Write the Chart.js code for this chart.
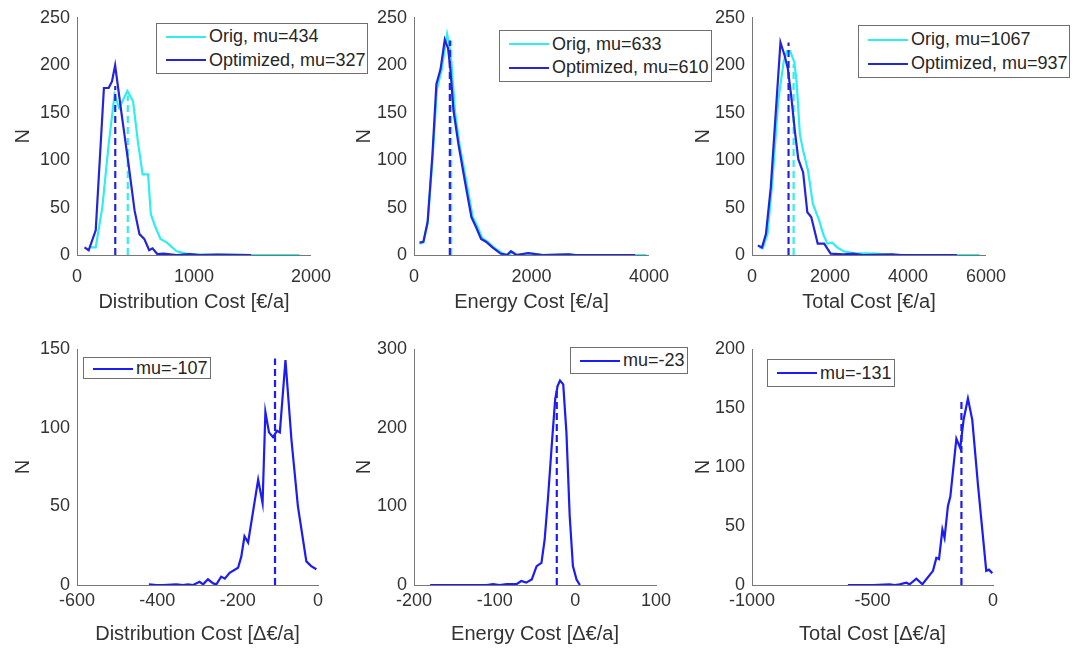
<!DOCTYPE html>
<html>
<head>
<meta charset="utf-8">
<title>Cost histograms</title>
<script src="https://cdn.jsdelivr.net/npm/chart.js@4.4.0/dist/chart.umd.min.js"></script>
<style>
  body { margin: 0; background: #fff; }
  #fig { position: relative; width: 1076px; height: 653px; overflow: hidden; font-family: "Liberation Sans", Arial, sans-serif; }
  .panel { position: absolute; }
  .legend { position: absolute; box-sizing: border-box; border: 1px solid #6f6f6f; background: #fff; color: #262626;
            font-size: 18px; padding: 0 2px 0 9px; z-index: 2; display: flex; flex-direction: column; justify-content: space-evenly; }
  .legend .row { display: flex; align-items: center; white-space: nowrap; }
  .legend .sw { width: 40px; height: 0; border-top: 2px solid; margin-right: 3px; flex: none; }
</style>
</head>
<body>
<div id="fig"></div>
<script>
// histogram counts (N) per bin, x = bin position

// distribution cost [€/a]
const distOrigX = [119, 160, 216, 271, 321, 360, 400, 431, 479, 520, 561, 608, 631, 672, 714, 769, 852, 935, 1018, 1200, 1500, 1903];
const distOrigN = [8, 8, 50, 117, 169, 155, 165, 173, 162, 120, 85, 85, 43, 29, 17, 13, 4, 1.4, 0.7, 0.5, 0, 0];
const distOptX = [64, 100, 160, 230, 271, 299, 326, 340, 382, 437, 492, 534, 575, 617, 645, 686, 741, 852, 960, 1050, 1200, 1488];
const distOptN = [8, 5, 26, 176, 176, 183, 200, 187, 148, 99, 47, 22, 17, 5, 7, 1, 1.5, 0, 1, 0, 0.5, 0];
const distMu = [434, 327];
const distMuN = [168, 178];

// energy cost [€/a]
const enOrigX = [94, 160, 232, 314, 390, 470, 563, 600, 640, 700, 780, 890, 1000, 1080, 1160, 1250, 1360, 1500, 1600, 1680, 1760, 1960, 2200, 2650, 2760, 3956];
const enOrigN = [12, 13, 33, 100, 175, 195, 233, 222, 200, 150, 115, 78, 40, 30, 18, 14, 8, 2, 0, 3, 0, 2, 0, 0.7, 0, 0];
const enOptX = [94, 160, 232, 314, 381, 452, 524, 579, 618, 673, 756, 866, 977, 1059, 1142, 1225, 1335, 1473, 1583, 1650, 1738, 1942, 2190, 2632, 2742, 3763];
const enOptN = [13, 14, 35, 106, 180, 196, 227, 218, 197, 152, 117, 78, 40, 29, 17, 14, 8, 1.5, 0, 4, 0, 2, 0, 0.7, 0, 0];
const enMu = [633, 610];
const enMuN = [226, 226];

// total cost [€/a]
const totOrigX = [191, 274, 398, 523, 672, 813, 896, 979, 1087, 1145, 1228, 1311, 1436, 1560, 1726, 1834, 1934, 2058, 2183, 2349, 2598, 3179, 3676, 5834];
const totOrigN = [8, 7, 22, 78, 162, 204, 215, 215, 203, 182, 127, 110, 89, 54, 36, 21, 12, 13, 8, 4, 2, 1.4, 0, 0];
const totOptX = [149, 257, 357, 481, 606, 730, 838, 921, 1004, 1104, 1187, 1311, 1419, 1519, 1685, 1851, 2017, 2349, 2598, 2847, 3594, 3843, 5253];
const totOptN = [10, 8, 22, 71, 148, 224, 210, 196, 168, 129, 101, 87, 45, 40, 12, 12, 1.4, 0.7, 1.4, 0, 0.7, 0, 0];
const totMu = [1067, 937];
const totMuN = [201, 224];

// differences optimized - orig [Δ€/a]
const dDistX = [-421, -402, -386, -353, -336, -324, -311, -295, -286, -274, -261, -253, -241, -232, -220, -199, -191, -183, -174, -149, -138, -131, -122, -112, -102, -95, -81, -66, -50, -29, -17, -4];
const dDistN = [0.4, 0, 0, 0.4, 0, 0.4, 0, 2, 0.4, 3.6, 1, 0.4, 5.3, 4, 7.8, 11, 18, 31, 27, 67, 52, 110, 97, 94, 98, 97, 143, 92, 50, 15, 12, 10];
const dDistMu = -107, dDistMuN = 144;

const dEnX = [-180, -110, -102, -94, -85, -73, -67, -61, -54, -48, -42, -38, -34, -29, -25, -22, -19, -15, -11, -7, -3, 1.5, 5.6];
const dEnN = [0, 0, 1, 0, 1, 1, 5, 3, 7, 24, 28, 58, 109, 181, 236, 253, 260, 255, 193, 88, 24, 7, 0];
const dEnMu = -23, dEnMuN = 252;

const dTotX = [-602, -498, -429, -408, -387, -360, -346, -318, -293, -249, -235, -224, -210, -201, -187, -177, -152, -136, -122, -104, -86, -62, -28, -17, -3];
const dTotN = [0, 0, 0.6, 0, 0.6, 2, 0.6, 5.4, 0.6, 12, 23, 22, 47, 40, 67, 75, 124, 116, 140, 158, 140, 84, 12, 13, 10];
const dTotMu = -131, dTotMuN = 156;

// axis ranges [min, max, step]
const distXR = [0, 2000, 1000], enXR = [0, 4000, 2000], totXR = [0, 6000, 2000];
const absYR = [0, 250, 50];
const dDistXR = [-600, 0, 200], dEnXR = [-200, 100, 100], dTotXR = [-1000, 0, 500];
const dDistYR = [0, 150, 50], dEnYR = [0, 300, 100], dTotYR = [0, 200, 50];

const CYAN = '#2eeeee', BLUE = '#2424d8', BLUE2 = '#1c1cf4';

Chart.defaults.font.family = '"Liberation Sans", Arial, sans-serif';
Chart.defaults.color = '#333';

const fig = document.getElementById('fig');

function pts(xs, ys) { return xs.map((x, i) => ({ x: x, y: ys[i] })); }
function curve(data, color, order) {
  return { data: data, borderColor: color, borderWidth: 2.2, pointRadius: 0, tension: 0, fill: false, order: order };
}
function meanLine(mu, top, color, order) {
  const d = curve([{ x: mu, y: 0 }, { x: mu, y: top }], color, order);
  d.borderDash = [7, 4];
  return d;
}

// rows / columns of the 2x3 grid
const rows = [
  { top: 0, padTop: 17, h: 318, xh: 63, tickPad: 11 },
  { top: 330, padTop: 19, h: 320, xh: 65, tickPad: 5 }
];
const cols = [
  { left: 7, w: 335, nPad: 4 },
  { left: 344, w: 336, nPad: 8 },
  { left: 682, w: 335, nPad: 9 }
];

function axis(r, title) {
  return {
    type: 'linear', min: r[0], max: r[1],
    ticks: { stepSize: r[2], font: { size: 18 }, color: '#333', callback: v => String(v) },
    grid: { display: true, drawOnChartArea: false, drawTicks: false },
    border: { display: true, color: '#777', width: 1 },
    title: { display: true, text: title, font: { size: 20 }, color: '#333' }
  };
}

function panel(row, col, xr, yr, xTitle, datasets, leg, items) {
  const R = rows[row], C = cols[col];
  const div = document.createElement('div');
  div.className = 'panel';
  div.style.left = C.left + 'px';
  div.style.top = R.top + 'px';
  div.style.width = C.w + 'px';
  div.style.height = R.h + 'px';
  const cv = document.createElement('canvas');
  div.appendChild(cv);
  fig.appendChild(div);

  const x = axis(xr, xTitle);
  x.ticks.padding = R.tickPad;
  x.title.padding = { top: 0, bottom: 4 };
  x.afterFit = s => { s.height = R.xh; };
  const y = axis(yr, 'N');
  y.ticks.padding = 7;
  y.title.padding = { top: C.nPad, bottom: 0 };
  y.afterFit = s => { s.width = 70; };

  new Chart(cv, {
    type: 'line',
    data: { datasets: datasets },
    options: {
      responsive: true, maintainAspectRatio: false, animation: false,
      layout: { padding: { top: R.padTop, right: 24, bottom: 0, left: 0 } },
      plugins: { legend: { display: false }, tooltip: { enabled: false } },
      scales: { x: x, y: y }
    }
  });

  const lg = document.createElement('div');
  lg.className = 'legend';
  lg.style.left = leg[0] + 'px';
  lg.style.top = leg[1] + 'px';
  lg.style.width = leg[2] + 'px';
  lg.style.height = leg[3] + 'px';
  items.forEach(it => {
    const rw = document.createElement('div');
    rw.className = 'row';
    const sw = document.createElement('span');
    sw.className = 'sw';
    sw.style.borderColor = it[1];
    const tx = document.createElement('span');
    tx.textContent = it[0];
    rw.appendChild(sw);
    rw.appendChild(tx);
    lg.appendChild(rw);
  });
  fig.appendChild(lg);
}

panel(0, 0, distXR, absYR, 'Distribution Cost [€/a]', [
  curve(pts(distOptX, distOptN), BLUE, 1),
  curve(pts(distOrigX, distOrigN), CYAN, 3),
  meanLine(distMu[1], distMuN[1], BLUE, 0),
  meanLine(distMu[0], distMuN[0], CYAN, 2)
], [156, 23, 212, 51], [['Orig, mu=' + distMu[0], CYAN], ['Optimized, mu=' + distMu[1], BLUE]]);

panel(0, 1, enXR, absYR, 'Energy Cost [€/a]', [
  curve(pts(enOptX, enOptN), BLUE, 1),
  curve(pts(enOrigX, enOrigN), CYAN, 3),
  meanLine(enMu[1], enMuN[1], BLUE, 0),
  meanLine(enMu[0], enMuN[0], CYAN, 2)
], [499, 30, 213, 52], [['Orig, mu=' + enMu[0], CYAN], ['Optimized, mu=' + enMu[1], BLUE]]);

panel(0, 2, totXR, absYR, 'Total Cost [€/a]', [
  curve(pts(totOptX, totOptN), BLUE, 1),
  curve(pts(totOrigX, totOrigN), CYAN, 3),
  meanLine(totMu[1], totMuN[1], BLUE, 0),
  meanLine(totMu[0], totMuN[0], CYAN, 2)
], [858, 25, 212, 53], [['Orig, mu=' + totMu[0], CYAN], ['Optimized, mu=' + totMu[1], BLUE]]);

panel(1, 0, dDistXR, dDistYR, 'Distribution Cost [Δ€/a]', [
  curve(pts(dDistX, dDistN), BLUE2, 1),
  meanLine(dDistMu, dDistMuN, BLUE2, 0)
], [83, 357, 128, 22], [['mu=' + dDistMu, BLUE2]]);

panel(1, 1, dEnXR, dEnYR, 'Energy Cost [Δ€/a]', [
  curve(pts(dEnX, dEnN), BLUE2, 1),
  meanLine(dEnMu, dEnMuN, BLUE2, 0)
], [570, 347, 118, 27], [['mu=' + dEnMu, BLUE2]]);

panel(1, 2, dTotXR, dTotYR, 'Total Cost [Δ€/a]', [
  curve(pts(dTotX, dTotN), BLUE2, 1),
  meanLine(dTotMu, dTotMuN, BLUE2, 0)
], [767, 359, 128, 28], [['mu=' + dTotMu, BLUE2]]);
</script>
</body>
</html>
